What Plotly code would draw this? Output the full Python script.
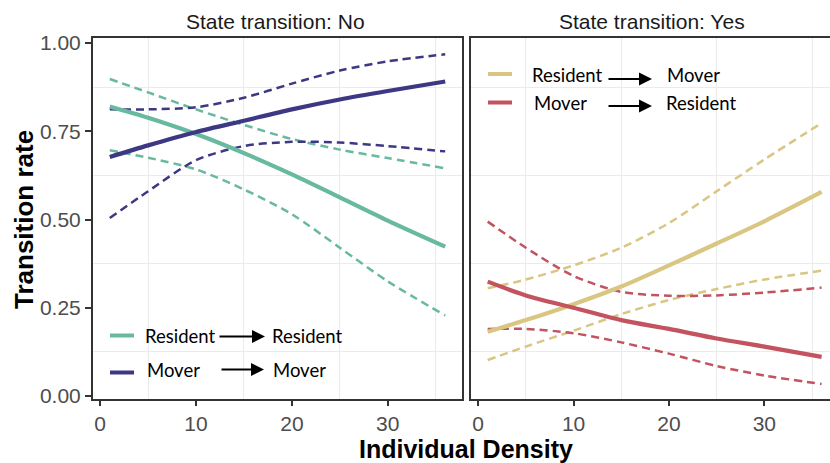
import plotly.graph_objects as go

W, H = 830, 463

# ---- data ----
density = [1, 5, 10, 15, 20, 25, 30, 36]

# State transition: No
rr_fit = [0.820, 0.788, 0.742, 0.688, 0.628, 0.563, 0.497, 0.423]
rr_hi = [0.898, 0.860, 0.812, 0.768, 0.728, 0.698, 0.674, 0.645]
rr_lo = [0.696, 0.675, 0.642, 0.585, 0.515, 0.420, 0.325, 0.228]
mm_fit = [0.677, 0.710, 0.748, 0.780, 0.812, 0.840, 0.864, 0.891]
mm_hi = [0.812, 0.812, 0.818, 0.845, 0.885, 0.922, 0.948, 0.968]
mm_lo = [0.504, 0.580, 0.668, 0.708, 0.720, 0.718, 0.708, 0.693]

# State transition: Yes
rm_fit = [0.182, 0.215, 0.260, 0.310, 0.370, 0.432, 0.495, 0.578]
rm_hi = [0.305, 0.330, 0.370, 0.420, 0.490, 0.580, 0.670, 0.773]
rm_lo = [0.102, 0.140, 0.185, 0.232, 0.272, 0.303, 0.330, 0.355]
mr_fit = [0.324, 0.285, 0.250, 0.215, 0.190, 0.163, 0.140, 0.111]
mr_hi = [0.494, 0.420, 0.340, 0.295, 0.284, 0.285, 0.293, 0.307]
mr_lo = [0.190, 0.190, 0.178, 0.152, 0.120, 0.085, 0.058, 0.034]

x_ticks = [0, 10, 20, 30]
y_ticks = [0, 0.25, 0.5, 0.75, 1.0]
y_labels = ["0.00", "0.25", "0.50", "0.75", "1.00"]
panel_titles = ["State transition: No", "State transition: Yes"]

TEAL = "#68b9a0"
NAVY = "#3c3883"
GOLD = "#d8c682"
RED = "#c2535f"

def px(v):
    return v / W

def py(v):
    return (H - v) / H

fig = go.Figure()

def add_curve(xa, ya, yvals, color, dashed):
    fig.add_trace(go.Scatter(
        x=density, y=yvals, xaxis=xa, yaxis=ya, mode="lines",
        line=dict(color=color, width=2.5 if dashed else 4.2,
                  dash="8px,5px" if dashed else "solid", shape="spline", smoothing=0.8),
        showlegend=False, hoverinfo="skip"))

for yv, c in ((rr_hi, TEAL), (rr_lo, TEAL), (mm_hi, NAVY), (mm_lo, NAVY)):
    add_curve("x", "y", yv, c, True)
add_curve("x", "y", rr_fit, TEAL, False)
add_curve("x", "y", mm_fit, NAVY, False)

for yv, c in ((rm_hi, GOLD), (rm_lo, GOLD), (mr_hi, RED), (mr_lo, RED)):
    add_curve("x2", "y2", yv, c, True)
add_curve("x2", "y2", rm_fit, GOLD, False)
add_curve("x2", "y2", mr_fit, RED, False)

tickfont = dict(family="Liberation Sans, Arial, sans-serif", size=21, color="#4d4d4d")
grid = "#ebebeb"

common_x = dict(
    tickmode="array", tickvals=x_ticks, showgrid=False, zeroline=False,
    showline=True, linecolor="#333333", linewidth=2, mirror=True,
    ticks="outside", ticklen=5, tickwidth=1.5, tickcolor="#333333",
    tickfont=tickfont, automargin=False,
    minor=dict(tickmode="array", tickvals=[5, 15, 25, 35], showgrid=True,
               gridcolor=grid, gridwidth=1, ticks=""),
)
yr = [-0.0085, 1.0142]
common_y = dict(
    range=yr, tickmode="array", tickvals=y_ticks, ticktext=y_labels,
    showgrid=False, zeroline=False, showline=True, linecolor="#333333", linewidth=2,
    tickfont=tickfont, automargin=False,
    minor=dict(tickmode="array", tickvals=[0.125, 0.375, 0.625, 0.875], showgrid=True,
               gridcolor=grid, gridwidth=1, ticks=""),
)

ydom = [py(399), py(38)]
fig.update_layout(
    width=W, height=H, margin=dict(l=0, r=0, t=0, b=0),
    paper_bgcolor="white", plot_bgcolor="white",
    xaxis=dict(domain=[px(93), px(462)], range=[-0.75, 37.75], anchor="y", **common_x),
    yaxis=dict(domain=ydom, anchor="x", mirror=True, ticks="outside", ticklen=6,
               tickwidth=1.5, tickcolor="#333333", **common_y),
    xaxis2=dict(domain=[px(471), 1.0], range=[-0.75, 36.88], anchor="y2", **common_x),
    yaxis2=dict(domain=ydom, anchor="x2", mirror=False, ticks="", showticklabels=False,
                **common_y),
)

annotations = []
stripfont = dict(family="Liberation Sans, Arial, sans-serif", size=21, color="#1a1a1a")
annotations.append(dict(text=panel_titles[0], x=px(275), y=py(22), xref="paper", yref="paper",
                        showarrow=False, xanchor="center", yanchor="middle", font=stripfont))
annotations.append(dict(text=panel_titles[1], x=px(651.5), y=py(22), xref="paper", yref="paper",
                        showarrow=False, xanchor="center", yanchor="middle", font=stripfont))
# axis titles
titlefont = dict(family="Liberation Sans, Arial, sans-serif", size=25, color="black")
annotations.append(dict(text="<b>Individual Density</b>", x=px(466), y=py(449), xref="paper", yref="paper",
                        showarrow=False, xanchor="center", yanchor="middle", font=titlefont))
annotations.append(dict(text="<b>Transition rate</b>", x=px(24), y=py(220), xref="paper", yref="paper",
                        showarrow=False, xanchor="center", yanchor="middle", textangle=-90,
                        font=dict(family="Liberation Sans, Arial, sans-serif", size=26, color="black")))

legfont = dict(family="Lato, Liberation Sans, sans-serif", size=18.5, color="black")
legend_items = [
    # (line color, line x0, x1, line y, text1, text1 x, text y, arrow tail, head, arrow y, text2 x)
    (TEAL, 110, 134, 335.5, "Resident", 143, 335.5, 218, 265, 336.5, 270),
    (NAVY, 110, 134, 372.5, "Mover", 145, 369.5, 220, 264, 369.5, 271),
    (GOLD, 488, 512, 74, "Resident", 530, 74.5, 607, 652, 79, 665),
    (RED, 488, 512, 102.5, "Mover", 532, 103, 607, 652, 106, 664),
]
legend_targets = ["Resident", "Mover", "Mover", "Resident"]
shapes = []
for (c, lx0, lx1, ly, t1, tx, ty, ax0, ax1, ay, t2x), t2 in zip(legend_items, legend_targets):
    shapes.append(dict(type="line", xref="paper", yref="paper", x0=px(lx0), x1=px(lx1),
                       y0=py(ly), y1=py(ly), line=dict(color=c, width=4)))
    annotations.append(dict(text=t1, x=px(tx), y=py(ty), xref="paper", yref="paper",
                            showarrow=False, xanchor="left", yanchor="middle", font=legfont))
    annotations.append(dict(text=t2, x=px(t2x), y=py(ty), xref="paper", yref="paper",
                            showarrow=False, xanchor="left", yanchor="middle", font=legfont))
    annotations.append(dict(text="", x=px(ax1), y=py(ay), xref="paper", yref="paper",
                            showarrow=True, ax=ax0 - ax1, ay=0, axref="pixel", ayref="pixel",
                            arrowhead=2, arrowsize=1.3, arrowwidth=2, arrowcolor="black", standoff=0))

fig.update_layout(annotations=annotations, shapes=shapes)
fig.write_html("out.html")
